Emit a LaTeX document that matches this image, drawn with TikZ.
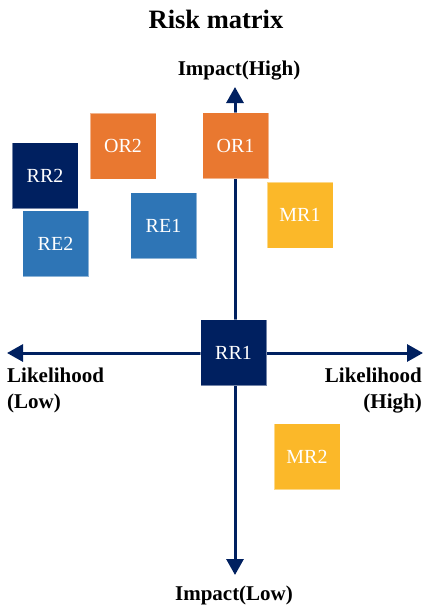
\documentclass[tikz,border=0pt]{standalone}
\usepackage{fontspec}
\setmainfont{Liberation Serif}
\usetikzlibrary{arrows.meta}
\definecolor{navy}{HTML}{002060}
\definecolor{riskorange}{HTML}{E97830}
\definecolor{riskblue}{HTML}{2E75B6}
\definecolor{riskyellow}{HTML}{FBB829}
\tikzset{
  riskbox/.style={fill=#1, draw=white, draw opacity=0.45, line width=0.8pt,
    minimum size=66pt, inner sep=0pt, text=white,
    font=\fontsize{20}{24}\selectfont},
  axis/.style={draw=navy, line width=3pt,
    -{Triangle[width=17pt,length=16pt]}},
  axislabel/.style={font=\bfseries\fontsize{21}{26}\selectfont, inner sep=0pt}
}
\begin{document}
\begin{tikzpicture}[x=1pt,y=-1pt]
\useasboundingbox (0,0) rectangle (424,608);
% title
\node[anchor=base, font=\bfseries\fontsize{26.5}{30}\selectfont, inner sep=0pt] (title) at (216,28) {Risk matrix};
% axis ends
\coordinate (top) at (235,87);
\coordinate (bottom) at (235,575);
\coordinate (left) at (7,353);
\coordinate (right) at (423,353);
\coordinate (centre) at (235,353);
\draw[axis] (centre) -- (top);
\draw[axis] (centre) -- (bottom);
\draw[axis] (centre) -- (left);
\draw[axis] (centre) -- (right);
% axis labels
\node[axislabel, anchor=base] (ihigh) at (239,75) {Impact(High)};
\node[axislabel, anchor=base] (ilow) at (234,600) {Impact(Low)};
\node[axislabel, anchor=base west, align=left] (llow) at (7,408) {Likelihood\\(Low)};
\node[axislabel, anchor=base east, align=right] (lhigh) at (422,408) {Likelihood\\(High)};
% boxes
\node[riskbox=riskorange] (OR2) at (123,146) {OR2};
\node[riskbox=navy] (RR2) at (45,175.5) {RR2};
\node[riskbox=riskblue] (RE2) at (55.5,243.5) {RE2};
\node[riskbox=riskblue] (RE1) at (163.5,225.5) {RE1};
\node[riskbox=riskorange] (OR1) at (235.5,145.5) {OR1};
\node[riskbox=riskyellow] (MR1) at (300,215) {MR1};
\node[riskbox=navy] (RR1) at (233.5,352.5) {RR1};
\node[riskbox=riskyellow] (MR2) at (307,456.5) {MR2};
\end{tikzpicture}
\end{document}
